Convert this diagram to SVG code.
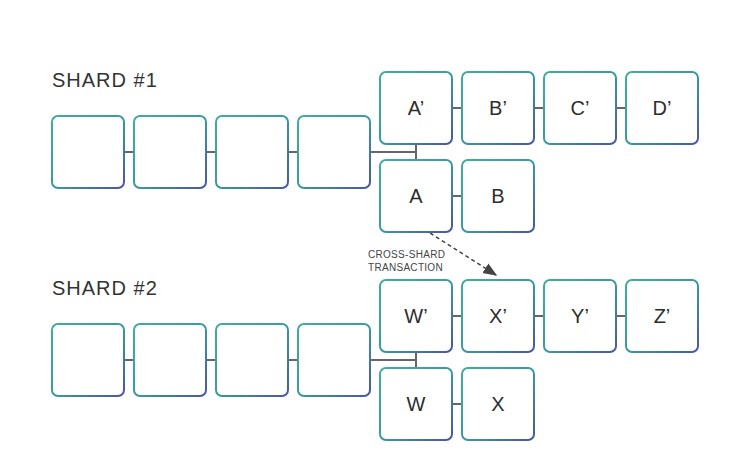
<svg xmlns="http://www.w3.org/2000/svg" width="750" height="468" viewBox="0 0 750 468">
<defs>
<linearGradient id="g" x1="0" y1="0" x2="1" y2="1">
<stop offset="0" stop-color="#3fae9c"/>
<stop offset="0.5" stop-color="#3a9aa0"/>
<stop offset="1" stop-color="#4a56a6"/>
</linearGradient>
<marker id="ah2" viewBox="0 0 10 10" refX="9" refY="5" markerWidth="14" markerHeight="14" orient="auto" markerUnits="userSpaceOnUse">
<path d="M0,1 L10,5 L0,9 z" fill="#444"/>
</marker>
</defs>
<style>
.b{fill:#fff;stroke:url(#g);stroke-width:2}
.l{stroke:#666;stroke-width:2;fill:none}
.t{font-family:"Liberation Sans",Arial,sans-serif;font-size:20px;fill:#2d2d2d;text-anchor:middle}
.h{font-family:"Liberation Sans",Arial,sans-serif;font-size:20px;fill:#333;letter-spacing:1px}
.s{font-family:"Liberation Sans",Arial,sans-serif;font-size:10px;fill:#444;letter-spacing:0.3px}
</style>
<rect width="750" height="468" fill="#fff"/>
<g id="connectors">
<path class="l" d="M124,152H134M206,152H216M288,152H298M370,152H416M416,144V160M452,108H462M534,108H544M616,108H626M452,196H462"/>
<path class="l" d="M124,360H134M206,360H216M288,360H298M370,360H416M416,352V368M452,316H462M534,316H544M616,316H626M452,404H462"/>
<path d="M430,233L496,275" stroke="#444" stroke-width="1.5" stroke-dasharray="4,3" fill="none" marker-end="url(#ah2)"/>
</g>
<g id="shard1-label"><text class="h" x="52" y="87">SHARD #1</text></g>
<g id="shard2-label"><text class="h" x="52" y="295">SHARD #2</text></g>
<g id="cross-label"><text class="s" x="368" y="258">CROSS-SHARD</text><text class="s" x="368" y="271">TRANSACTION</text></g>
<g id="s1b1"><rect class="b" x="52" y="116" width="72" height="72" rx="6"/></g>
<g id="s1b2"><rect class="b" x="134" y="116" width="72" height="72" rx="6"/></g>
<g id="s1b3"><rect class="b" x="216" y="116" width="72" height="72" rx="6"/></g>
<g id="s1b4"><rect class="b" x="298" y="116" width="72" height="72" rx="6"/></g>
<g id="Ap"><rect class="b" x="380" y="72" width="72" height="72" rx="6"/><text class="t" x="416" y="115">A’</text></g>
<g id="Bp"><rect class="b" x="462" y="72" width="72" height="72" rx="6"/><text class="t" x="498" y="115">B’</text></g>
<g id="Cp"><rect class="b" x="544" y="72" width="72" height="72" rx="6"/><text class="t" x="580" y="115">C’</text></g>
<g id="Dp"><rect class="b" x="626" y="72" width="72" height="72" rx="6"/><text class="t" x="662" y="115">D’</text></g>
<g id="A"><rect class="b" x="380" y="160" width="72" height="72" rx="6"/><text class="t" x="416" y="203">A</text></g>
<g id="B"><rect class="b" x="462" y="160" width="72" height="72" rx="6"/><text class="t" x="498" y="203">B</text></g>
<g id="s2b1"><rect class="b" x="52" y="324" width="72" height="72" rx="6"/></g>
<g id="s2b2"><rect class="b" x="134" y="324" width="72" height="72" rx="6"/></g>
<g id="s2b3"><rect class="b" x="216" y="324" width="72" height="72" rx="6"/></g>
<g id="s2b4"><rect class="b" x="298" y="324" width="72" height="72" rx="6"/></g>
<g id="Wp"><rect class="b" x="380" y="280" width="72" height="72" rx="6"/><text class="t" x="416" y="323">W’</text></g>
<g id="Xp"><rect class="b" x="462" y="280" width="72" height="72" rx="6"/><text class="t" x="498" y="323">X’</text></g>
<g id="Yp"><rect class="b" x="544" y="280" width="72" height="72" rx="6"/><text class="t" x="580" y="323">Y’</text></g>
<g id="Zp"><rect class="b" x="626" y="280" width="72" height="72" rx="6"/><text class="t" x="662" y="323">Z’</text></g>
<g id="W"><rect class="b" x="380" y="368" width="72" height="72" rx="6"/><text class="t" x="416" y="411">W</text></g>
<g id="X"><rect class="b" x="462" y="368" width="72" height="72" rx="6"/><text class="t" x="498" y="411">X</text></g>
</svg>
